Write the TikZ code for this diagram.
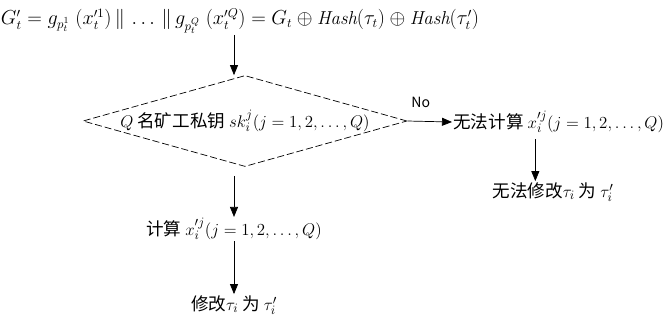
\documentclass[tikz,border=0pt]{standalone}
\usepackage{fontspec}
\newfontfamily\cjk{Noto Sans CJK SC}
\usetikzlibrary{shapes.geometric,positioning,arrows.meta,calc}

\begin{document}
\begin{tikzpicture}[
    x=0.03cm, y=-0.03cm,
    txt/.style={font=\cjk\fontsize{15}{17}\selectfont, inner sep=1pt},
    decision/.style={diamond, draw, dash pattern=on 6pt off 2.5pt, line width=0.6pt, aspect=3.4,
        inner xsep=-1cm, inner ysep=0pt, minimum width=9.72cm, minimum height=2.73cm,
        font=\cjk\fontsize{15}{17}\selectfont},
    arrow/.style={-{Triangle[length=3mm, width=2.4mm]}, line width=0.6pt},
    label/.style={font=\cjk\fontsize{12}{14}\selectfont},
]
\useasboundingbox (0,0) rectangle (668,322);

% Formula on top
\node[txt, font=\fontsize{16}{18}\selectfont] (hash) at (240,21) {$G'_t = g_{p_t^{1}}\;(x'^1_t) \,\|\, \ldots \,\|\, g_{p_t^{Q}}\;(x'^Q_t) = G_t \oplus \mathit{Hash}(\tau_t) \oplus \mathit{Hash}(\tau'_t)$};

% Decision
\node[decision] (keys) at (245,121) {$Q$ 名矿工私钥 $sk_i^j(j=1,2,\ldots,Q)$};

% Yes branch
\node[txt] (calc) at (234,229) {计算 $x'^j_i(j=1,2,\ldots,Q)$};
\node[txt] (fix) at (234,305) {修改$\tau_i$ 为 $\tau'_i$};

% No branch
\node[txt, anchor=west] (nocalc) at (452,122) {无法计算 $x'^j_i(j=1,2,\ldots,Q)$};
\node[txt] (nofix) at (553,192) {无法修改$\tau_i$ 为 $\tau'_i$};

% Arrows
\draw[arrow] (hash.south -| calc.north) -- (calc.north |- keys.north);
\draw[arrow] ([yshift=-0.27cm]calc.north |- keys.south) -- (calc.north);
\draw[arrow] (calc.south) -- (fix.north);
\draw[arrow] (keys.east) -- node[label, pos=0.3, above=8pt] {No} (nocalc.west);
\draw[arrow] ([xshift=2.5cm, yshift=-0.15cm]nocalc.south west) -- ([xshift=2.5cm]nocalc.south west |- nofix.north);

\end{tikzpicture}
\end{document}
